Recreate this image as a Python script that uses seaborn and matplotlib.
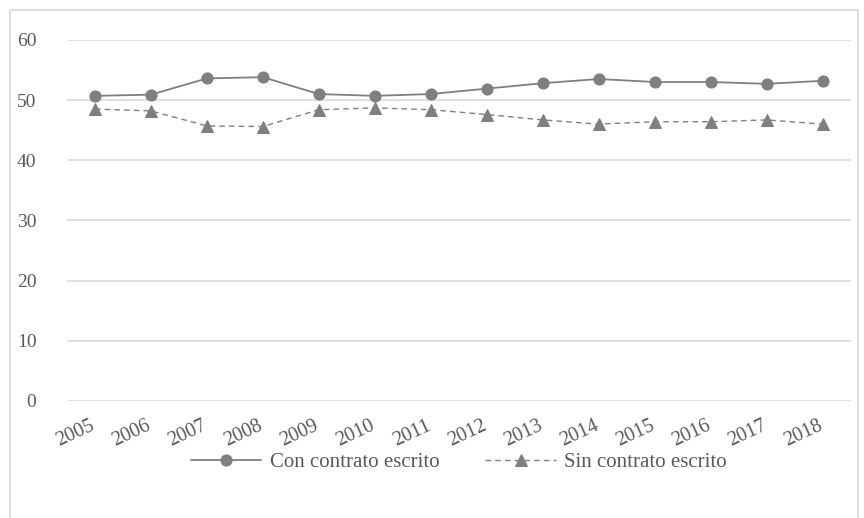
import matplotlib
matplotlib.use("Agg")
import matplotlib.pyplot as plt
import matplotlib.transforms as mtransforms
import seaborn as sns
import pandas as pd
from matplotlib.patches import Rectangle

years = ["2005", "2006", "2007", "2008", "2009", "2010", "2011",
         "2012", "2013", "2014", "2015", "2016", "2017", "2018"]
con_contrato = [50.7, 50.9, 53.6, 53.8, 51.0, 50.7, 51.0,
                51.9, 52.8, 53.5, 53.0, 53.0, 52.7, 53.2]
sin_contrato = [48.5, 48.2, 45.7, 45.6, 48.4, 48.7, 48.4,
                47.6, 46.7, 46.0, 46.4, 46.4, 46.7, 46.0]
y_ticks = [0, 10, 20, 30, 40, 50, 60]

sns.set_style("white")
plt.rcParams["font.family"] = ["Liberation Serif", "DejaVu Serif"]

grey = "#7f7f7f"
text_grey = "#595959"

df = pd.DataFrame({
    "year": years * 2,
    "value": con_contrato + sin_contrato,
    "serie": ["Con contrato escrito"] * len(years) + ["Sin contrato escrito"] * len(years),
})
df["x"] = list(range(len(years))) * 2

fig = plt.figure(figsize=(8.64, 5.18), dpi=100)
ax = fig.add_axes([0.0775, 0.226, 0.907, 0.697])

sns.lineplot(data=df[df.serie == "Con contrato escrito"], x="x", y="value",
             ax=ax, color=grey, linewidth=1.3, marker="o", markersize=9,
             markeredgecolor=grey, label="Con contrato escrito")
sns.lineplot(data=df[df.serie == "Sin contrato escrito"], x="x", y="value",
             ax=ax, color=grey, linewidth=1.0, linestyle=(0, (4, 3)),
             marker="^", markersize=10, markeredgecolor=grey,
             label="Sin contrato escrito")

ax.set_xlim(-0.5, len(years) - 0.5)
ax.set_ylim(0, 60)
ax.set_yticks(y_ticks)
ax.set_yticklabels([str(t) for t in y_ticks], fontsize=14, color=text_grey)
ax.set_xticks(range(len(years)))
ax.set_xticklabels(years, rotation=25, fontsize=14.5, color=text_grey,
                   ha="right", va="top", rotation_mode="anchor")
ax.tick_params(axis="x", length=0, pad=11)
ax.tick_params(axis="y", length=0, pad=22)
ax.yaxis.grid(True, color="#d9d9d9", linewidth=1.2)
ax.set_axisbelow(True)
for side in ["top", "right", "left", "bottom"]:
    ax.spines[side].set_visible(False)
ax.set_xlabel("")
ax.set_ylabel("")

# nudge the rotated year labels slightly to the left
shift = mtransforms.ScaledTranslation(-5 / 100, 0, fig.dpi_scale_trans)
for lbl in ax.get_xticklabels():
    lbl.set_transform(lbl.get_transform() + shift)

handles, labels = ax.get_legend_handles_labels()
for h in handles:
    h.set_markersize(8)
ax.legend(handles, labels, loc="center", bbox_to_anchor=(0.5, -0.17),
          ncol=2, frameon=False, fontsize=15, labelcolor=text_grey,
          handlelength=3.4, columnspacing=2.2, handletextpad=0.4)

fig.patches.append(Rectangle((10 / 864, -0.01), 848 / 864, 1 - 10 / 518 + 0.01,
                             transform=fig.transFigure, fill=False,
                             edgecolor="#d9d9d9", linewidth=1.2))

fig.savefig("out.png", dpi=100, facecolor="white")
